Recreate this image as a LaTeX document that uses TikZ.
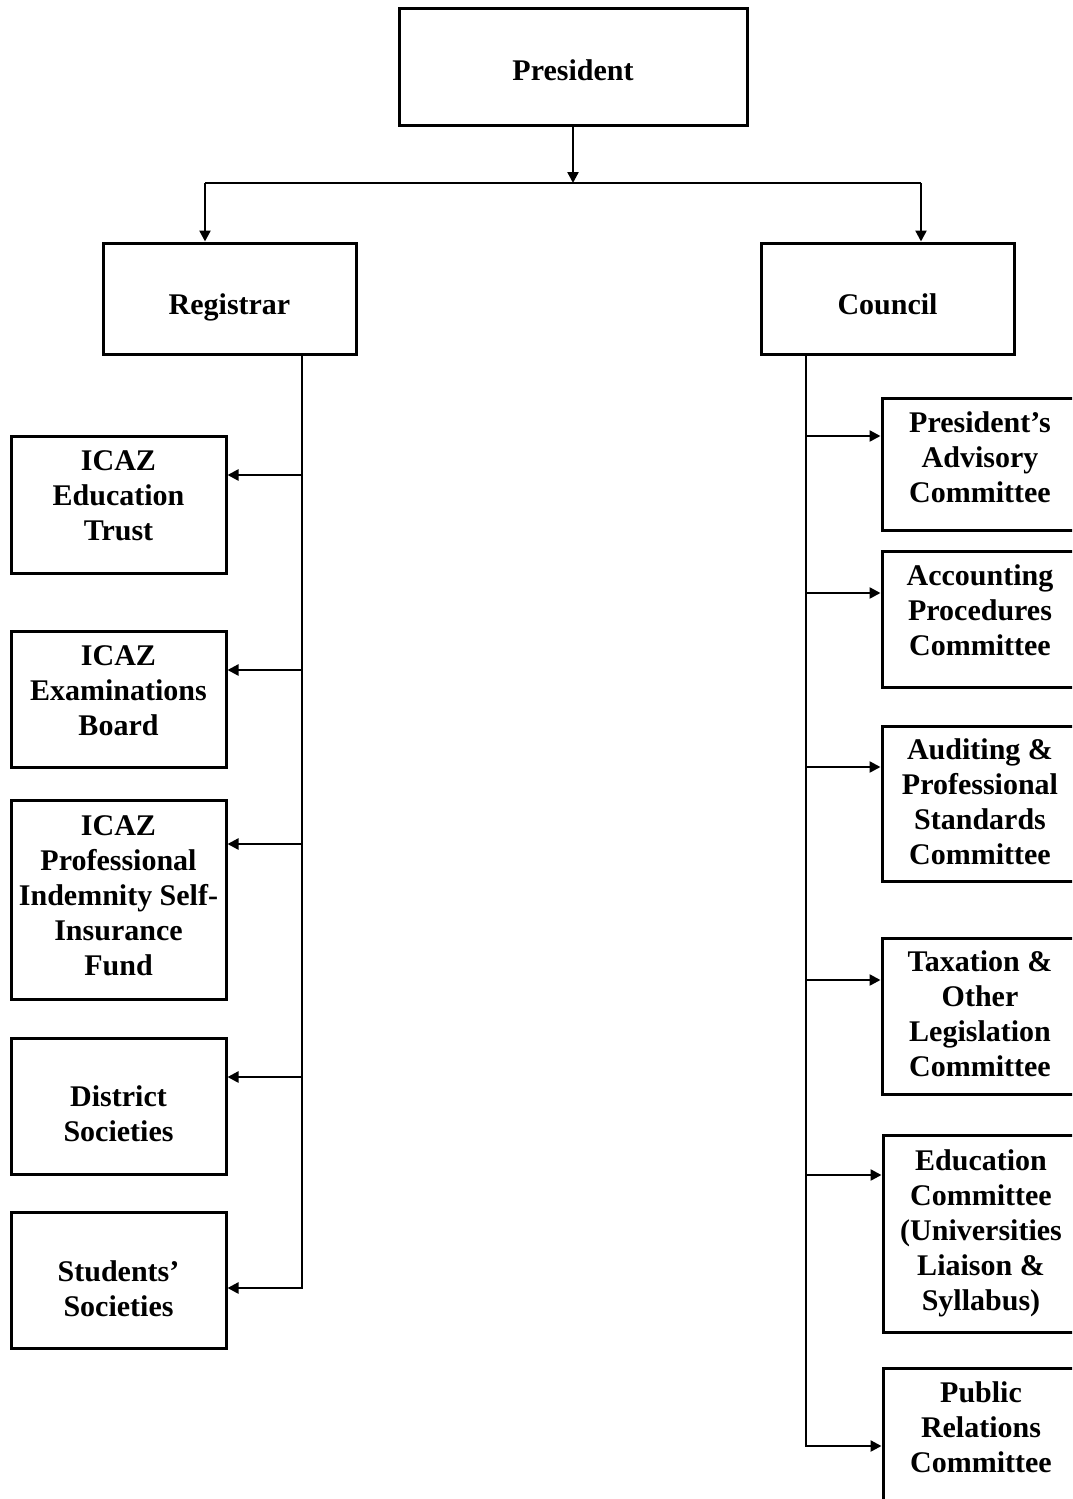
\documentclass[tikz,border=0pt]{standalone}
\usepackage{fontspec}
\setmainfont{Liberation Serif}
\usetikzlibrary{arrows.meta}
\begin{document}
\begin{tikzpicture}[x=1pt,y=-1pt,
  box/.style={draw,line width=3pt,inner sep=0pt},
  txt/.style={align=center,font=\fontsize{30}{35}\selectfont\bfseries},
  lbox/.style={box,minimum width=215pt},
  rbox/.style={box,minimum width=196pt},
  conn/.style={line width=2.4pt},
  arr/.style={conn,-{Triangle[length=11pt,width=11pt]}}]
\useasboundingbox (0,0) rectangle (1072,1499);
\clip (0,0) rectangle (1072,1499);
\fill[white] (0,0) rectangle (1072,1499);

% top level
\node[box,minimum width=348pt,minimum height=117pt,label={[txt,yshift=-4pt]center:President}] (pres) at (573,66.5) {};
\node[box,minimum width=253pt,minimum height=111pt,label={[txt,yshift=-9pt]center:Registrar}] (reg) at (229.5,298.5) {};
\node[box,minimum width=253pt,minimum height=111pt,label={[txt,yshift=-6pt]center:Council}] (cou) at (887.5,298.5) {};

\coordinate (hub) at (573,183);
\draw[arr] (pres.south) -- (hub);
\draw[conn] ([xshift=-24.5pt]reg.north |- hub) -- ([xshift=33.5pt]cou.north |- hub);
\draw[arr] ([xshift=-24.5pt]reg.north |- hub) -- ([xshift=-24.5pt]reg.north);
\draw[arr] ([xshift=33.5pt]cou.north |- hub) -- ([xshift=33.5pt]cou.north);

% left column
\node[lbox,minimum height=137pt,label={[txt,yshift=9pt]center:ICAZ\\Education\\Trust}] (edu) at (118.5,504.5) {};
\node[lbox,minimum height=136pt,label={[txt,yshift=8pt]center:ICAZ\\Examinations\\Board}] (exb) at (118.5,699) {};
\node[lbox,minimum height=199pt,label={[txt,yshift=4pt]center:ICAZ\\Professional\\Indemnity Self-\\Insurance\\Fund}] (pii) at (118.5,899.5) {};
\node[lbox,minimum height=136pt,label={[txt,yshift=-8pt]center:District\\Societies}] (dis) at (118.5,1106) {};
\node[lbox,minimum height=136pt,label={[txt,yshift=-9pt]center:Students'\\Societies}] (stu) at (118.5,1280) {};

\coordinate (rt) at ([xshift=72.5pt]reg.south);
\coordinate (l1) at ([yshift=29.5pt]edu.east);
\coordinate (l2) at ([yshift=29pt]exb.east);
\coordinate (l3) at ([yshift=55.5pt]pii.east);
\coordinate (l4) at ([yshift=29pt]dis.east);
\coordinate (l5) at ([yshift=-8pt]stu.east);
\draw[arr] (rt) |- (l5);
\foreach \c in {l1,l2,l3,l4}{\draw[arr] (rt |- \c) -- (\c);}

% right column
\node[rbox,minimum height=132pt,label={[txt,yshift=7pt]center:President's\\Advisory\\Committee}] (pac) at (980,464) {};
\node[rbox,minimum height=136pt,label={[txt,yshift=9pt]center:Accounting\\Procedures\\Committee}] (apc) at (980,619) {};
\node[rbox,minimum height=155pt,label={[txt,yshift=2pt]center:Auditing \&\\Professional\\Standards\\Committee}] (aps) at (980,803.5) {};
\node[rbox,minimum height=156pt,label={[txt,yshift=2pt]center:Taxation \&\\Other\\Legislation\\Committee}] (tol) at (980,1016) {};
\node[rbox,minimum height=197pt,label={[txt]center:Education\\Committee\\(Universities\\Liaison \&\\Syllabus)}] (edc) at (981,1233.5) {};
\node[rbox,minimum height=136pt,label={[txt,yshift=9pt]center:Public\\Relations\\Committee}] (prc) at (981,1436) {};

\coordinate (ct) at ([xshift=-81.5pt]cou.south);
\coordinate (r1) at ([yshift=28pt]pac.west);
\coordinate (r2) at ([yshift=26pt]apc.west);
\coordinate (r3) at ([yshift=36.5pt]aps.west);
\coordinate (r4) at ([yshift=36pt]tol.west);
\coordinate (r5) at ([yshift=58.5pt]edc.west);
\coordinate (r6) at ([yshift=-10pt]prc.west);
\draw[arr] (ct) |- (r6);
\foreach \c in {r1,r2,r3,r4,r5}{\draw[arr] (ct |- \c) -- (\c);}
\end{tikzpicture}
\end{document}
